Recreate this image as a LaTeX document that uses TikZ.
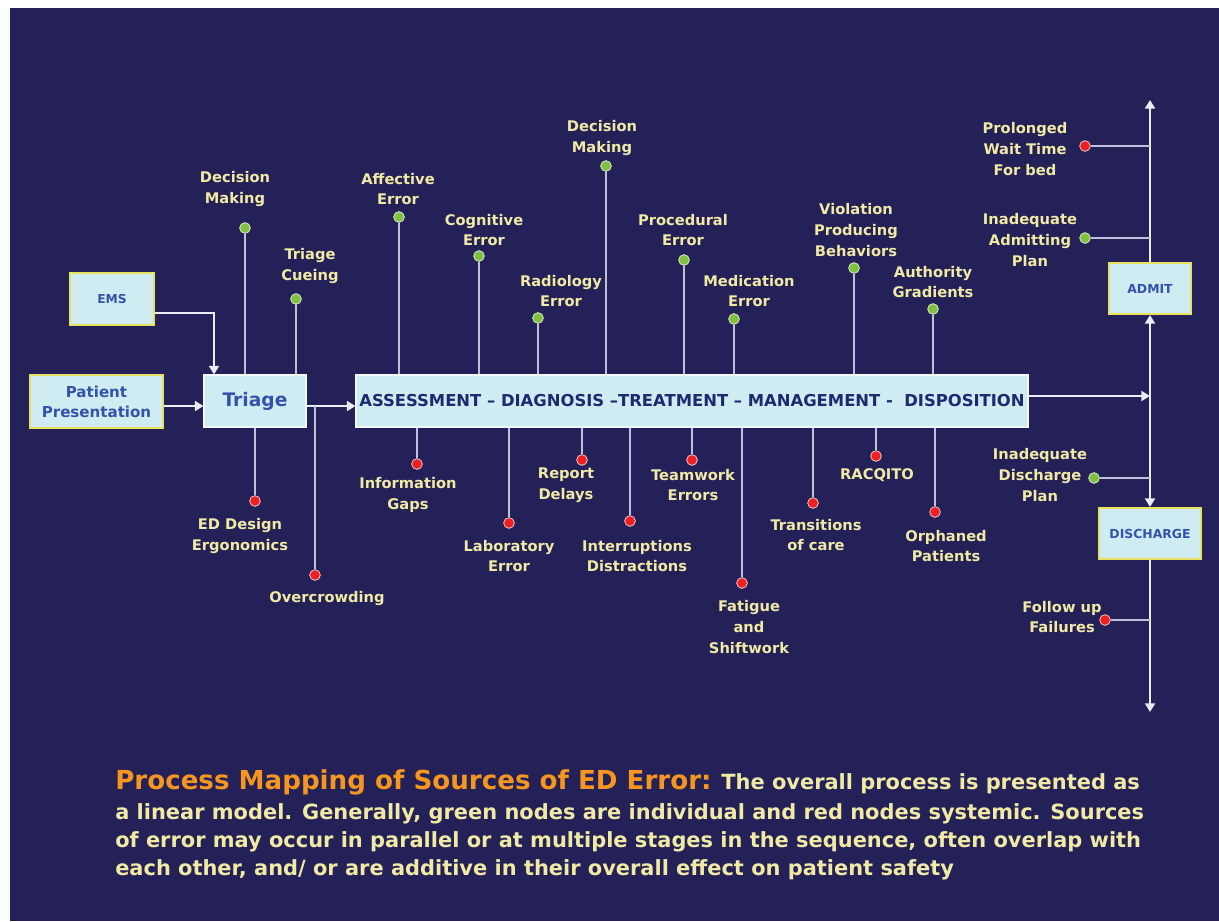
\documentclass[tikz,border=0pt]{standalone}
\usepackage{fontspec}
\setmainfont{DejaVu Sans}
\usetikzlibrary{arrows.meta}
\definecolor{bgnavy}{RGB}{36,32,88}
\definecolor{boxfill}{RGB}{208,236,243}
\definecolor{boxyellow}{RGB}{232,226,96}
\definecolor{boxtext}{RGB}{52,82,170}
\definecolor{bigtext}{RGB}{28,42,112}
\definecolor{labtext}{RGB}{240,234,165}
\definecolor{wirec}{RGB}{192,192,218}
\definecolor{arrc}{RGB}{235,235,245}
\definecolor{gdotc}{RGB}{128,192,64}
\definecolor{rdotc}{RGB}{236,32,36}
\definecolor{orangec}{RGB}{246,150,30}
\begin{document}
\begin{tikzpicture}[x=0.75pt,y=-0.75pt,
  lab/.style={text=labtext,font=\bfseries\fontsize{11}{15.5}\selectfont,align=center,inner sep=0pt},
  gdot/.style={circle,fill=gdotc,draw=white!75!gdotc,line width=0.6pt,minimum size=8pt,inner sep=0pt},
  rdot/.style={circle,fill=rdotc,draw=white!75!rdotc,line width=0.6pt,minimum size=8pt,inner sep=0pt},
  wire/.style={draw=wirec,line width=1.1pt},
  flowarr/.style={draw=arrc,line width=1.6pt,-{Triangle[width=7.5pt,length=6.5pt]}},
  ybox/.style={draw=boxyellow,line width=1.5pt,fill=boxfill,inner sep=0pt,align=center,text=boxtext},
  lbox/.style={draw=white!70!boxfill,line width=0.8pt,fill=boxfill,inner sep=0pt,align=center,text=boxtext},
  captxt/.style={anchor=base west,inner sep=0pt,text=labtext,font=\bfseries\fontsize{15.7}{20}\selectfont}]
\useasboundingbox (0,0) rectangle (1219,921);
\fill[white] (0,0) rectangle (1219,921);
\fill[bgnavy] (10,8) rectangle (1219,921);

% boxes
\node[ybox,minimum width=63pt,minimum height=39pt,font=\bfseries\fontsize{9.2}{12}\selectfont] (ems) at (112,299) {EMS};
\node[ybox,minimum width=99.75pt,minimum height=39.75pt,font=\bfseries\fontsize{11.3}{15}\selectfont] (pp) at (96.5,401.5) {Patient\\Presentation};
\node[lbox,minimum width=76.5pt,minimum height=39pt,font=\bfseries\fontsize{14}{16}\selectfont] (triage) at (255,401) {Triage};
\node[lbox,minimum width=504pt,minimum height=39pt,text=bigtext,font=\bfseries\fontsize{12.3}{14}\selectfont] (main) at (692,401) {ASSESSMENT – DIAGNOSIS –TREATMENT – MANAGEMENT -\ \ DISPOSITION};
\node[ybox,minimum width=61.5pt,minimum height=38.25pt,font=\bfseries\fontsize{9.3}{12}\selectfont] (admit) at (1150,288.5) {ADMIT};
\node[ybox,minimum width=76.5pt,minimum height=38.25pt,font=\bfseries\fontsize{9.3}{12}\selectfont] (discharge) at (1150,533.5) {DISCHARGE};

% flow coordinates
\coordinate (flow) at (0,406);
\coordinate (emsbend) at (214,313);
\coordinate (junc) at (1150,396);
\coordinate (topend) at (1150,100);
\coordinate (botend) at (1150,712);

% main arrows
\draw[flowarr] (emsbend -| ems.east) -- (emsbend) -- (emsbend |- triage.north);
\draw[flowarr] (flow -| pp.east) -- (flow -| triage.west);
\draw[flowarr] (flow -| triage.east) -- (flow -| main.west);
\draw[flowarr] (junc -| main.east) -- (junc);
\draw[flowarr] (junc) -- (admit.south);
\draw[flowarr] (admit.north) -- (topend);
\draw[flowarr] (junc) -- (discharge.north);
\draw[flowarr] (discharge.south) -- (botend);

% dots
\node[gdot] (dDMt) at (245,228) {};
\node[gdot] (dTC) at (296,299) {};
\node[rdot] (dED) at (255,501) {};
\node[rdot] (dOC) at (315,575) {};
\node[gdot] (dAE) at (399,217) {};
\node[gdot] (dCE) at (479,256) {};
\node[gdot] (dRE) at (538,318) {};
\node[gdot] (dDM) at (606,166) {};
\node[gdot] (dPE) at (684,260) {};
\node[gdot] (dME) at (734,319) {};
\node[gdot] (dVP) at (854,268) {};
\node[gdot] (dAG) at (933,309) {};
\node[rdot] (dIG) at (417,464) {};
\node[rdot] (dLE) at (509,523) {};
\node[rdot] (dRD) at (582,460) {};
\node[rdot] (dID) at (630,521) {};
\node[rdot] (dTE) at (692,460) {};
\node[rdot] (dFS) at (742,583) {};
\node[rdot] (dTR) at (813,503) {};
\node[rdot] (dRQ) at (876,456) {};
\node[rdot] (dOP) at (935,512) {};
\node[rdot] (dPW) at (1085,146) {};
\node[gdot] (dIA) at (1085,238) {};
\node[gdot] (dIDP) at (1094,478) {};
\node[rdot] (dFU) at (1105,620) {};

% wires
\draw[wire] (dDMt.south) -- (dDMt.south |- triage.north);
\draw[wire] (dTC.south) -- (dTC.south |- triage.north);
\draw[wire] (dED.north |- triage.south) -- (dED.north);
\draw[wire] (dOC.north |- flow) -- (dOC.north);
\foreach \d in {dAE,dCE,dRE,dDM,dPE,dME,dVP,dAG}
  \draw[wire] (\d.south) -- (\d.south |- main.north);
\foreach \d in {dIG,dLE,dRD,dID,dTE,dFS,dTR,dRQ,dOP}
  \draw[wire] (\d.north |- main.south) -- (\d.north);
\foreach \d in {dPW,dIA,dIDP,dFU}
  \draw[wire] (\d.east) -- (\d.east -| junc);

% labels
\node[lab] (lDMt) at (235,189) {Decision\\Making};
\node[lab] (lTC) at (310,266) {Triage\\Cueing};
\node[lab] (lAE) at (398,189) {Affective\\Error};
\node[lab] (lCE) at (484,230) {Cognitive\\Error};
\node[lab] (lRE) at (561,291) {Radiology\\Error};
\node[lab] (lDM) at (602,138) {Decision\\Making};
\node[lab] (lPE) at (683,230) {Procedural\\Error};
\node[lab] (lME) at (749,291) {Medication\\Error};
\node[lab] (lVP) at (856,230) {Violation\\Producing\\Behaviors};
\node[lab] (lAG) at (933,282) {Authority\\Gradients};
\node[lab] (lED) at (240,536) {ED Design\\Ergonomics};
\node[lab] (lOC) at (327,598) {Overcrowding};
\node[lab] (lIG) at (408,495) {Information\\Gaps};
\node[lab] (lLE) at (509,556) {Laboratory\\Error};
\node[lab] (lRD) at (566,485) {Report\\Delays};
\node[lab] (lID) at (637,556) {Interruptions\\Distractions};
\node[lab] (lTE) at (693,485) {Teamwork\\Errors};
\node[lab] (lFS) at (749,627) {Fatigue\\and\\Shiftwork};
\node[lab] (lTR) at (816,535) {Transitions\\of care};
\node[lab] (lRQ) at (877,475) {RACQITO};
\node[lab] (lOP) at (946,546) {Orphaned\\Patients};
\node[lab] (lPW) at (1025,149) {Prolonged\\Wait Time\\For bed};
\node[lab] (lIA) at (1030,240) {Inadequate\\Admitting\\Plan};
\node[lab] (lIDP) at (1040,475) {Inadequate\\Discharge\\Plan};
\node[lab] (lFU) at (1062,617) {Follow up\\Failures};

% caption
\node[captxt] (cap1) at (115,789)
  {{\color{orangec}\fontsize{19.6}{24}\selectfont Process Mapping of Sources of ED Error:} The overall process is presented as};
\node[captxt] (cap2) at (115,819)
  {a linear model. Generally, green nodes are individual and red nodes systemic. Sources};
\node[captxt] (cap3) at (115,847)
  {of error may occur in parallel or at multiple stages in the sequence, often overlap with};
\node[captxt] (cap4) at (115,875)
  {each other, and/ or are additive in their overall effect on patient safety};
\end{tikzpicture}
\end{document}
